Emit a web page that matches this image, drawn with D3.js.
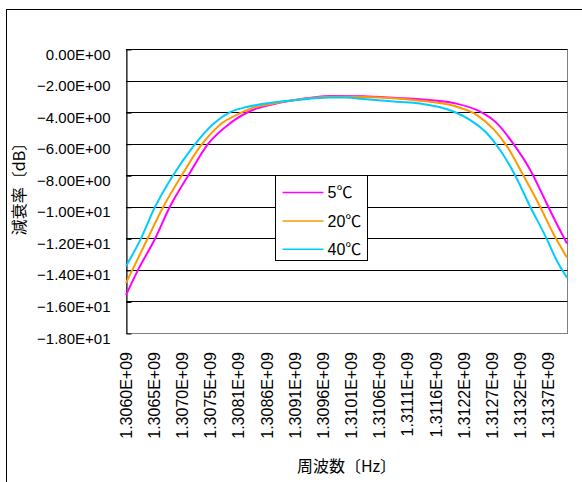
<!DOCTYPE html>
<html>
<head>
<meta charset="utf-8">
<script src="https://cdn.jsdelivr.net/npm/d3@7"></script>
<style>
  html, body { margin: 0; padding: 0; background: #fff; }
  svg { display: block; }
  text { font-family: "Liberation Sans", Arial, "Noto Sans CJK JP", sans-serif; fill: #000; }
</style>
</head>
<body>
<svg id="chart" width="582" height="482"></svg>
<script>
// ---- Data (frequency in MHz, attenuation in dB) ----
const seriesNames = ["5℃", "20℃", "40℃"];
const seriesColors = ["#FF00FF", "#FF9900", "#00CCFF"];

const freq5 = [1306.00, 1306.22, 1306.53, 1306.80, 1307.14, 1307.50, 1307.90, 1308.32, 1308.62, 1309.11, 1309.41, 1309.72, 1310.32, 1310.94, 1311.36, 1311.97, 1312.45, 1312.76, 1313.06, 1313.37, 1313.67, 1313.85, 1314.04];
const loss5 = [-15.6, -14.0, -12.03, -10.0, -7.99, -6.0, -4.7, -3.85, -3.55, -3.22, -3.08, -2.98, -3.0, -3.1, -3.18, -3.42, -3.96, -4.70, -6.0, -7.67, -9.79, -11.06, -12.33];

const freq20 = [1306.00, 1306.38, 1306.68, 1307.02, 1307.35, 1307.71, 1308.08, 1308.32, 1308.62, 1309.11, 1309.72, 1310.32, 1310.94, 1311.36, 1311.97, 1312.39, 1312.70, 1312.94, 1313.24, 1313.55, 1313.79, 1314.04];
const loss20 = [-14.83, -12.12, -10.0, -7.99, -6.19, -4.81, -4.07, -3.72, -3.5, -3.22, -3.02, -3.04, -3.14, -3.28, -3.60, -4.17, -5.08, -6.14, -7.99, -10.0, -11.69, -13.22];

const freq40 = [1306.00, 1306.26, 1306.53, 1306.86, 1307.22, 1307.59, 1307.90, 1308.20, 1308.62, 1309.11, 1309.72, 1310.02, 1310.32, 1310.94, 1311.36, 1311.97, 1312.27, 1312.58, 1312.82, 1313.06, 1313.37, 1313.67, 1313.85, 1314.04];
const loss40 = [-13.77, -12.1, -10.0, -8.0, -6.2, -4.75, -4.0, -3.68, -3.42, -3.23, -3.08, -3.08, -3.17, -3.34, -3.45, -3.96, -4.49, -5.34, -6.40, -7.78, -10.0, -12.03, -13.39, -14.49];

const xTickFreqs = [1306.00, 1306.51, 1307.03, 1307.54, 1308.05, 1308.57, 1309.08, 1309.59, 1310.11, 1310.62, 1311.13, 1311.65, 1312.16, 1312.67, 1313.19, 1313.70];
const xTickLabels = ["1.3060E+09", "1.3065E+09", "1.3070E+09", "1.3075E+09", "1.3081E+09", "1.3086E+09", "1.3091E+09", "1.3096E+09", "1.3101E+09", "1.3106E+09", "1.3111E+09", "1.3116E+09", "1.3122E+09", "1.3127E+09", "1.3132E+09", "1.3137E+09"];

const yTickValues = [0, -2, -4, -6, -8, -10, -12, -14, -16, -18];
const yTickLabels = ["0.00E+00", "−2.00E+00", "−4.00E+00", "−6.00E+00", "−8.00E+00", "−1.00E+01", "−1.20E+01", "−1.40E+01", "−1.60E+01", "−1.80E+01"];

const xTitle = "周波数〔Hz〕";
const yTitle = "減衰率〔dB〕";

// ---- Layout ----
const plot = { left: 126, top: 49, right: 567, bottom: 333 };
const svg = d3.select("#chart");

// outer chart frame (only left/top edges fall inside the picture)
svg.append("rect").attr("x", 6.5).attr("y", 9.5).attr("width", 620).attr("height", 520)
  .attr("fill", "none").attr("stroke", "#000").attr("stroke-width", 1);

const x = d3.scaleLinear().domain([1306.00, 1314.04]).range([plot.left, plot.right]);
const y = d3.scaleLinear().domain([-18, 0]).range([plot.bottom, plot.top]);

// plot area border (gray)
svg.append("rect")
  .attr("x", plot.left + 0.5).attr("y", plot.top + 0.5)
  .attr("width", plot.right - plot.left).attr("height", plot.bottom - plot.top)
  .attr("fill", "#fff").attr("stroke", "#808080").attr("stroke-width", 1);

// gridlines
svg.append("g").selectAll("line").data(yTickValues.filter(v => v !== -18)).join("line")
  .attr("x1", plot.left).attr("x2", plot.right + 0.5)
  .attr("y1", d => Math.round(y(d)) + 0.5).attr("y2", d => Math.round(y(d)) + 0.5)
  .attr("stroke", "#000").attr("stroke-width", 1);

// y axis
const yAxis = d3.axisLeft(y).tickValues(yTickValues).tickSizeInner(-5).tickSizeOuter(0)
  .tickFormat((d, i) => yTickLabels[i]);
const gy = svg.append("g").attr("transform", `translate(${plot.left + 0.5},0.5)`).call(yAxis);
gy.select(".domain").attr("stroke", "#000");
gy.selectAll(".tick line").attr("stroke", "#000");
gy.selectAll(".tick text")
  .attr("x", -16).attr("dy", "0.7em").attr("y", -1)
  .style("font-size", "15px").style("font-family", '"Liberation Sans", Arial, sans-serif');

// x axis labels (rotated)
const gx = svg.append("g");
gx.selectAll("text").data(xTickFreqs).join("text")
  .attr("transform", d => `translate(${x(d)},352) rotate(-90)`)
  .attr("text-anchor", "end").attr("dy", "0.36em")
  .style("font-size", "16px")
  .text((d, i) => xTickLabels[i]);

// series
const series = [
  { name: seriesNames[0], color: seriesColors[0], f: freq5, v: loss5 },
  { name: seriesNames[1], color: seriesColors[1], f: freq20, v: loss20 },
  { name: seriesNames[2], color: seriesColors[2], f: freq40, v: loss40 }
];
const line = d3.line().x(d => x(d[0])).y(d => y(d[1])).curve(d3.curveMonotoneX);
svg.append("g").selectAll("path").data(series).join("path")
  .attr("d", s => line(s.f.map((f, i) => [f, s.v[i]])))
  .attr("fill", "none").attr("stroke", s => s.color).attr("stroke-width", 2);

// legend
const lg = svg.append("g").attr("transform", "translate(275.5,175.5)");
lg.append("rect").attr("width", 92).attr("height", 85).attr("fill", "#fff").attr("stroke", "#000");
const li = lg.selectAll("g.item").data(series).join("g").attr("class", "item")
  .attr("transform", (d, i) => `translate(0,${17 + i * 28.4})`);
li.append("line").attr("x1", 7).attr("x2", 48).attr("y1", 0).attr("y2", 0)
  .attr("stroke", d => d.color).attr("stroke-width", 1.5);
li.append("text").attr("x", 52).attr("dy", "0.36em").style("font-size", "16px")
  .style("font-family", '"Liberation Sans", "Noto Sans CJK JP", sans-serif')
  .text(d => d.name);

// axis titles
svg.append("text").attr("x", (plot.left + plot.right) / 2).attr("y", 466).attr("dy", "0.36em")
  .attr("text-anchor", "middle").style("font-size", "16px")
  .style("font-family", '"Noto Sans CJK JP", "Liberation Sans", sans-serif')
  .text(xTitle);
svg.append("text").attr("transform", `translate(19,185) rotate(-90)`)
  .attr("text-anchor", "middle").attr("dy", "0.36em").style("font-size", "16px")
  .style("font-family", '"Noto Sans CJK JP", "Liberation Sans", sans-serif')
  .text(yTitle);
</script>
</body>
</html>
